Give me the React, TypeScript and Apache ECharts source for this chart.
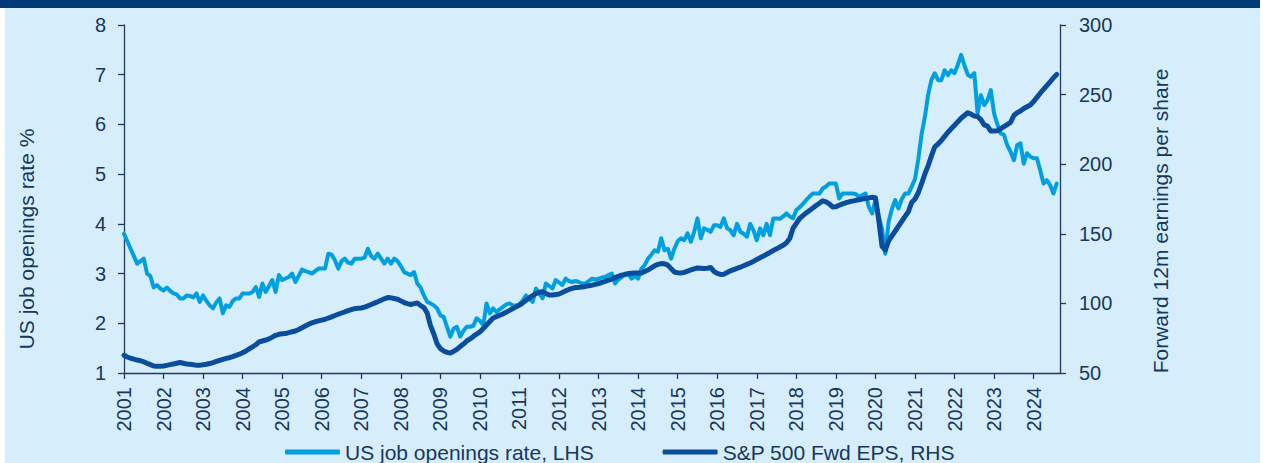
import React, { useEffect, useRef } from "react";
import * as echarts from "echarts";

// Monthly categories Jan 2001 .. Sep 2024
const firstYear = 2001;
const lastYear = 2024;
const lastMonthOfLastYear = 9;
const months: string[] = [];
for (let y = firstYear; y <= lastYear; y++) {
  const maxM = y === lastYear ? lastMonthOfLastYear : 12;
  for (let m = 1; m <= maxM; m++) months.push(`${y}-${m < 10 ? "0" + m : m}`);
}

// US job openings rate, % (LHS), Jan 2001 .. Aug 2024
const jobOpeningsRate: number[] = [
  // 2001
  3.8, 3.65, 3.5, 3.35, 3.2, 3.25, 3.3, 3.0, 2.95, 2.72, 2.77, 2.7,
  // 2002
  2.66, 2.72, 2.65, 2.6, 2.58, 2.5, 2.5, 2.56, 2.55, 2.52, 2.6, 2.43,
  // 2003
  2.56, 2.45, 2.36, 2.3, 2.42, 2.5, 2.2, 2.36, 2.33, 2.45, 2.5, 2.5,
  // 2004
  2.6, 2.6, 2.6, 2.63, 2.73, 2.53, 2.8, 2.63, 2.75, 2.87, 2.63, 2.97,
  // 2005
  2.87, 2.9, 2.93, 3.0, 2.83, 2.95, 3.08, 3.05, 3.03, 3.0, 3.05, 3.1,
  // 2006
  3.1, 3.1, 3.4, 3.38, 3.27, 3.1, 3.25, 3.3, 3.22, 3.2, 3.3, 3.3,
  // 2007
  3.3, 3.32, 3.5, 3.35, 3.3, 3.4, 3.3, 3.2, 3.3, 3.2, 3.3, 3.25,
  // 2008
  3.15, 3.03, 3.0, 2.97, 3.03, 2.8, 2.72, 2.56, 2.43, 2.4, 2.36, 2.3,
  // 2009
  2.16, 2.13, 1.93, 1.73, 1.89, 1.93, 1.73, 1.85, 1.93, 1.93, 1.95, 2.1,
  // 2010
  2.05, 1.96, 2.4, 2.2, 2.3, 2.23, 2.28, 2.33, 2.38, 2.4, 2.36, 2.36,
  // 2011
  2.38, 2.46, 2.56, 2.5, 2.43, 2.7, 2.6, 2.5, 2.8, 2.75, 2.7, 2.87,
  // 2012
  2.82, 2.77, 2.9, 2.85, 2.83, 2.85, 2.83, 2.8, 2.8, 2.85, 2.9, 2.88,
  // 2013
  2.9, 2.92, 2.93, 2.97, 3.0, 2.8, 2.88, 2.93, 2.97, 3.0, 2.9, 2.95,
  // 2014
  2.9, 3.1, 3.17, 3.3, 3.38, 3.47, 3.44, 3.71, 3.47, 3.5, 3.3, 3.5,
  // 2015
  3.65, 3.71, 3.67, 3.81, 3.64, 3.84, 4.11, 3.71, 3.91, 3.88, 3.84, 3.97,
  // 2016
  3.97, 3.94, 4.11, 3.91, 3.87, 3.77, 4.0, 3.84, 3.8, 3.74, 4.0, 3.87,
  // 2017
  3.67, 3.91, 3.77, 4.0, 3.77, 4.11, 4.11, 4.1, 4.15, 4.21, 4.15, 4.11,
  // 2018
  4.28, 4.33, 4.4, 4.48, 4.55, 4.61, 4.61, 4.61, 4.71, 4.75, 4.81, 4.81,
  // 2019
  4.81, 4.51, 4.61, 4.61, 4.61, 4.61, 4.6, 4.54, 4.58, 4.61, 4.34, 4.21,
  // 2020
  4.48, 4.14, 3.9, 3.4, 4.04, 4.3, 4.48, 4.31, 4.5, 4.61, 4.61, 4.75,
  // 2021
  4.9, 5.3, 5.8, 6.15, 6.6, 6.9, 7.03, 6.89, 6.89, 7.09, 6.99, 7.09,
  // 2022
  7.03, 7.2, 7.4, 7.19, 7.0, 6.96, 7.03, 6.22, 6.59, 6.39, 6.49, 6.69,
  // 2023
  6.22, 6.0, 5.82, 5.79, 5.58, 5.45, 5.28, 5.58, 5.62, 5.21, 5.42, 5.35,
  // 2024
  5.32, 5.32, 5.08, 4.81, 4.88, 4.78, 4.61, 4.81,
];

// S&P 500 forward 12m EPS (RHS), Jan 2001 .. Aug 2024
const spFwdEps: number[] = [
  // 2001
  62.7, 61.5, 60.6, 60, 59.3, 58.8, 58, 57, 56, 55, 54.8, 54.8,
  // 2002
  55, 55.5, 56, 56.5, 57, 57.5, 57, 56.5, 56.3, 56, 55.5, 55.5,
  // 2003
  56, 56.3, 56.8, 57.5, 58.3, 59.1, 59.8, 60.5, 61, 61.8, 62.7, 63.5,
  // 2004
  64.5, 65.8, 67.3, 68.8, 70.3, 72.3, 73, 73.7, 74.5, 75.8, 77.1, 77.8,
  // 2005
  78.2, 78.3, 79, 79.6, 80.2, 81.3, 82.5, 83.8, 85, 86.0, 86.8, 87.4,
  // 2006
  88, 88.6, 89.5, 90.3, 91.3, 92.2, 93.1, 93.9, 94.8, 95.6, 96.2, 96.6,
  // 2007
  96.7, 97.3, 98.2, 99.2, 100.2, 101.2, 102.3, 103.3, 104.2, 104, 103.5, 103,
  // 2008
  101.8, 100.6, 99.8, 99.2, 99.8, 100.3, 98.5, 97, 93, 84, 78, 71,
  // 2009
  67.5, 65.8, 64.8, 64.4, 65.5, 67, 69, 70.8, 73, 74.5, 76.3, 78,
  // 2010
  79.5, 81.9, 84.5, 87, 89.5, 90.5, 91.5, 92.5, 93.7, 95, 96.3, 97.5,
  // 2011
  98.8, 100.4, 102.3, 103.8, 105.6, 107, 108, 108.3, 107, 106, 106.1, 106.4,
  // 2012
  106.8, 107.8, 109, 110, 110.8, 111.4, 111.5, 111.8, 112.2, 112.7, 113.1, 113.7,
  // 2013
  114.3, 115, 115.9, 116.7, 117.5, 118.5, 119.5, 120.3, 120.9, 121.4, 121.6, 121.8,
  // 2014
  121.8, 121.9, 123, 124, 125.5, 127, 128, 128.6, 128.5, 127.5, 125, 122.5,
  // 2015
  122, 121.9, 122.3, 123.2, 124, 124.8, 125.5, 125.3, 125.1, 125.3, 125.8, 123,
  // 2016
  121.5, 120.8, 121, 122.2, 123.4, 124.3, 125.2, 126, 127, 128, 129, 130.2,
  // 2017
  131.6, 132.8, 134, 135.3, 136.6, 138, 139.2, 140.5, 141.8, 143.5, 146.6, 154,
  // 2018
  157.5, 161, 163, 165, 166.8, 168.5, 170.3, 172, 173.7, 173, 171.5, 169.3,
  // 2019
  169.5, 170.5, 171.5, 172.3, 173, 173.5, 174, 174.5, 175, 175.4, 175.8, 176.3,
  // 2020
  176, 160, 141, 138.2, 145, 148.5, 152, 155.5, 159, 162.5, 166, 172.5,
  // 2021
  175, 179.5, 186, 193, 199, 206, 212.5, 214.5, 217, 220, 223, 225.5,
  // 2022
  228, 230.5, 233, 235, 237, 236, 234.6, 234.3, 232, 228.2, 227.3, 223.8,
  // 2023
  223.8, 224, 225.5, 227, 228.5, 230, 235, 237, 238.2, 240, 241.3, 242.5,
  // 2024
  245, 248, 251, 253.8, 256.5, 259.2, 262, 264.5,
];

const leftTicks = { min: 1, max: 8, interval: 1 };
const rightTicks = { min: 50, max: 300, interval: 50 };
const seriesNames = ["US job openings rate, LHS", "S&P 500 Fwd EPS, RHS"];
const axisNames = ["US job openings rate %", "Forward 12m earnings per share"];

const FONT = "'Liberation Sans', Arial, Helvetica, sans-serif";
const TEXT = "#17375e";
const AXIS = "#1d3b60";
const LIGHT = "#00a0e0";
const DARK = "#0a4d9c";
const BG = "#d6eefc";
const NAVY = "#003a78";

export default function App() {
  const ref = useRef<HTMLDivElement>(null);
  useEffect(() => {
    if (!ref.current) return;
    const chart = echarts.init(ref.current, undefined, { renderer: "svg" });
    const yearTick = (i: number) => i % 12 === 0;
    chart.setOption({
      animation: false,
      backgroundColor: "#ffffff",
      textStyle: { fontFamily: FONT, color: TEXT },
      graphic: [
        { type: "rect", z: -10, silent: true, shape: { x: 0, y: 0, width: 1260, height: 8 }, style: { fill: NAVY } },
        { type: "rect", z: -10, silent: true, shape: { x: 5, y: 8, width: 1255, height: 455 }, style: { fill: BG } },
        {
          type: "text", x: 26, y: 239, rotation: Math.PI / 2,
          style: { text: axisNames[0], fill: TEXT, font: `21px ${FONT}`, align: "center", verticalAlign: "middle", textAlign: "center", textVerticalAlign: "middle" },
        },
        {
          type: "text", x: 1160, y: 221, rotation: Math.PI / 2,
          style: { text: axisNames[1], fill: TEXT, font: `21px ${FONT}`, align: "center", verticalAlign: "middle", textAlign: "center", textVerticalAlign: "middle" },
        },
      ],
      grid: { left: 124, top: 25, width: 936, height: 348, containLabel: false },
      legend: {
        left: 285, top: 441, padding: 0, itemGap: 69, itemWidth: 55, itemHeight: 5,
        icon: "roundRect",
        textStyle: { fontSize: 21, color: TEXT, fontFamily: FONT, lineHeight: 22 },
        data: seriesNames,
      },
      xAxis: {
        type: "category",
        data: months,
        boundaryGap: false,
        axisLine: { lineStyle: { color: AXIS, width: 1.3 } },
        axisTick: { show: true, interval: yearTick, length: 6, lineStyle: { color: AXIS, width: 1.3 } },
        axisLabel: {
          interval: yearTick, rotate: 90, margin: 14, fontSize: 20, color: TEXT, fontFamily: FONT,
          formatter: (v: string) => v.slice(0, 4),
        },
        splitLine: { show: false },
      },
      yAxis: [
        {
          type: "value", position: "left", ...leftTicks,
          axisLine: { show: true, lineStyle: { color: AXIS, width: 1.3 } },
          axisTick: { show: true, length: 6, lineStyle: { color: AXIS, width: 1.3 } },
          axisLabel: { margin: 18, fontSize: 20, color: TEXT, fontFamily: FONT },
          splitLine: { show: false },
        },
        {
          type: "value", position: "right", ...rightTicks,
          axisLine: { show: true, lineStyle: { color: AXIS, width: 1.3 } },
          axisTick: { show: true, length: 6, lineStyle: { color: AXIS, width: 1.3 } },
          axisLabel: { margin: 19, fontSize: 20, color: TEXT, fontFamily: FONT },
          splitLine: { show: false },
        },
      ],
      series: [
        {
          name: seriesNames[0], type: "line", yAxisIndex: 0, data: jobOpeningsRate,
          symbol: "none", showSymbol: false, color: LIGHT,
          lineStyle: { color: LIGHT, width: 4, cap: "round", join: "round" },
        },
        {
          name: seriesNames[1], type: "line", yAxisIndex: 1, data: spFwdEps,
          symbol: "none", showSymbol: false, color: DARK,
          lineStyle: { color: DARK, width: 5, cap: "round", join: "round" },
        },
      ],
    });
    return () => chart.dispose();
  }, []);
  return (
    <div
      ref={ref}
      style={{ position: "fixed", left: 0, top: 0, width: 1263, height: 463 }}
    />
  );
}
